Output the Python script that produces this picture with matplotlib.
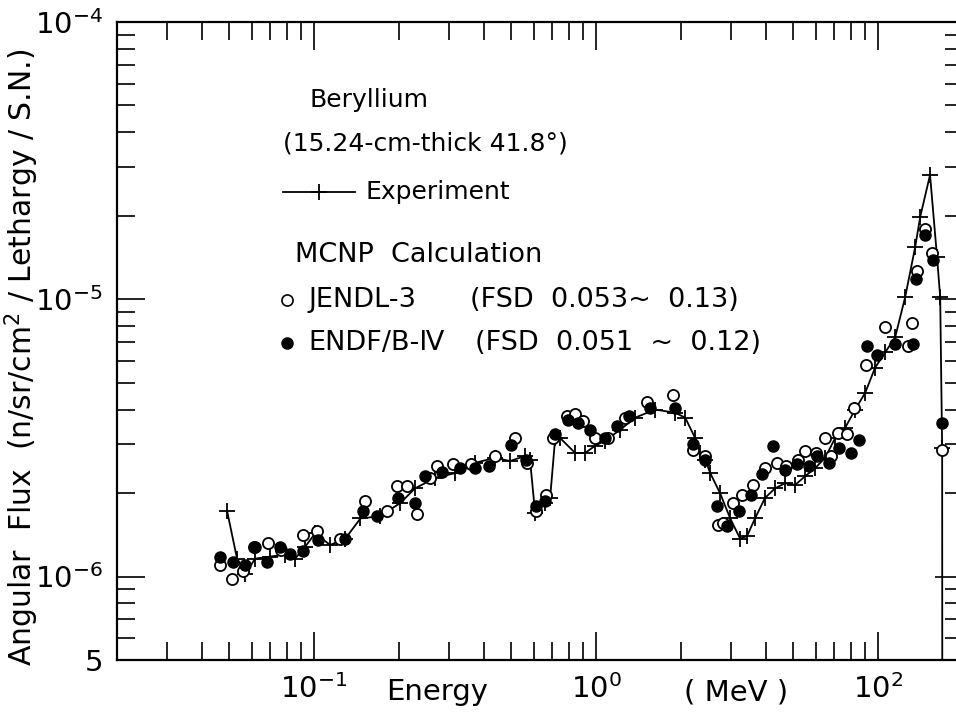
import matplotlib
matplotlib.use("Agg")
import matplotlib.pyplot as plt
from matplotlib.lines import Line2D
from matplotlib.ticker import LogLocator, NullFormatter, FixedLocator
import numpy as np

plt.rcParams['font.family'] = ['DejaVu Sans']

# ---- data (Energy in MeV, flux in units of 1e-6 n/sr/cm2/lethargy/S.N.) ----
exp_energy = [0.0491, 0.0533, 0.0569, 0.0618, 0.0698, 0.0789, 0.0856, 0.0929, 0.1008, 0.114,
              0.129, 0.146, 0.171, 0.202, 0.228, 0.269, 0.316, 0.372, 0.438, 0.495,
              0.560, 0.583, 0.608, 0.659, 0.687, 0.716, 0.745, 0.843, 0.914, 0.991,
              1.076, 1.216, 1.374, 1.619, 1.905, 2.07, 2.244, 2.34, 2.44, 2.54,
              2.75, 2.99, 3.24, 3.43, 3.66, 3.97, 4.31, 4.68, 5.08, 5.51,
              5.98, 6.49, 7.04, 7.64, 8.29, 9.0, 9.76, 10.59, 11.49, 12.47,
              13.53, 14.1, 15.28, 16.18, 16.6, 16.87, 16.9]
exp_flux = [1.73, 1.16, 1.02, 1.16, 1.18, 1.20, 1.16, 1.28, 1.43, 1.30,
            1.37, 1.62, 1.65, 1.84, 2.08, 2.27, 2.36, 2.57, 2.68, 2.61,
            2.72, 2.63, 1.69, 1.84, 1.92, 3.16, 3.16, 2.79, 2.79, 2.96,
            3.09, 3.38, 3.74, 4.00, 3.90, 3.74, 3.16, 2.79, 2.63, 2.36,
            2.00, 1.62, 1.37, 1.40, 1.62, 1.92, 2.08, 2.17, 2.14, 2.30,
            2.46, 2.68, 3.16, 3.44, 4.00, 4.60, 5.67, 6.43, 7.29, 10.17,
            15.4, 19.8, 28.1, 14.2, 10.2, 2.9, 0.1]

jendl_energy = [0.0464, 0.0512, 0.056, 0.0612, 0.0687, 0.0764, 0.0914, 0.1026, 0.1237, 0.1517,
                0.1815, 0.197, 0.2138, 0.2317, 0.2576, 0.2728, 0.311, 0.360, 0.438, 0.516,
                0.569, 0.612, 0.665, 0.705, 0.789, 0.843, 0.900, 0.992, 1.103, 1.267,
                1.517, 1.876, 2.21, 2.44, 2.71, 2.82, 3.06, 3.30, 3.61, 3.97,
                4.38, 4.72, 5.20, 5.51, 6.03, 6.49, 6.81, 7.21, 7.76, 8.22,
                9.06, 10.6, 12.8, 13.2, 13.75, 14.7, 15.5, 16.87]
jendl_flux = [1.10, 0.98, 1.05, 1.28, 1.32, 1.25, 1.41, 1.46, 1.37, 1.87,
              1.72, 2.12, 2.12, 1.68, 2.26, 2.50, 2.55, 2.55, 2.72, 3.16,
              2.57, 1.73, 1.97, 3.16, 3.80, 3.86, 3.64, 3.16, 3.16, 3.74,
              4.27, 4.53, 2.86, 2.72, 1.54, 1.56, 1.84, 1.97, 2.14, 2.46,
              2.57, 2.50, 2.63, 2.84, 2.79, 3.16, 2.72, 3.30, 3.27, 4.06,
              5.77, 7.92, 6.81, 8.18, 12.6, 17.9, 14.7, 2.86]

endf_energy = [0.0464, 0.0516, 0.0569, 0.0618, 0.0681, 0.0757, 0.0822, 0.0914, 0.1033, 0.129,
               0.1492, 0.1673, 0.1986, 0.228, 0.2475, 0.2844, 0.33, 0.372, 0.4175, 0.4995,
               0.565, 0.612, 0.659, 0.716, 0.7955, 0.863, 0.952, 1.076, 1.187, 1.309,
               1.554, 1.905, 2.21, 2.44, 2.69, 2.91, 3.21, 3.54, 3.88, 4.24,
               4.68, 5.16, 5.69, 6.08, 6.70, 7.27, 8.02, 8.56, 9.14, 9.92,
               11.49, 13.3, 13.6, 14.7, 15.7, 16.87]
endf_flux = [1.18, 1.13, 1.105, 1.28, 1.13, 1.28, 1.21, 1.24, 1.36, 1.37,
             1.73, 1.65, 1.92, 1.84, 2.30, 2.38, 2.46, 2.46, 2.50, 2.98,
             2.63, 1.79, 1.87, 3.27, 3.67, 3.58, 3.38, 3.16, 3.50, 3.80,
             4.06, 4.06, 3.01, 2.63, 1.79, 1.52, 1.73, 1.97, 2.34, 2.96,
             2.42, 2.55, 2.50, 2.72, 2.57, 2.91, 2.79, 3.11, 6.81, 6.32,
             6.87, 6.87, 11.8, 17.1, 13.8, 3.58]

scale = 1e-6
xtick_values = [0.1, 1.0, 10.0]
xtick_labels = [r'$10^{-1}$', r'$10^{0}$', r'$10^{2}$']
ytick_values = [5e-7, 1e-6, 1e-5, 1e-4]
ytick_labels = ['5', r'$10^{-6}$', r'$10^{-5}$', r'$10^{-4}$']

W, H = 956, 718
fig = plt.figure(figsize=(W / 100, H / 100), dpi=100)
left_px, right_px, top_px, bottom_px = 117, 963, 22, 660
ax = fig.add_axes([left_px / W, 1 - bottom_px / H, (right_px - left_px) / W, (bottom_px - top_px) / H])
ax.set_xscale('log')
ax.set_yscale('log')
ax.set_xlim(0.02, 20)
ax.set_ylim(5e-7, 1e-4)

ax.plot(exp_energy, np.array(exp_flux) * scale, color='black', lw=1.3,
        marker='+', ms=11, mew=1.3, clip_on=True)
ax.plot(jendl_energy, np.array(jendl_flux) * scale, ls='none', marker='o', ms=8,
        mfc='white', mec='black', mew=1.3, zorder=3)
ax.plot(endf_energy, np.array(endf_flux) * scale, ls='none', marker='o', ms=8,
        mfc='black', mec='black', mew=1.0, zorder=3)

for s in ax.spines.values():
    s.set_linewidth(1.6)

ax.xaxis.set_major_locator(FixedLocator(xtick_values))
ax.set_xticklabels(xtick_labels)
ax.xaxis.set_minor_locator(LogLocator(base=10, subs=np.arange(2, 10), numticks=20))
ax.xaxis.set_minor_formatter(NullFormatter())
ax.yaxis.set_major_locator(FixedLocator(ytick_values))
ax.set_yticklabels(ytick_labels)
ax.yaxis.set_minor_locator(LogLocator(base=10, subs=np.arange(2, 10), numticks=20))
ax.yaxis.set_minor_formatter(NullFormatter())

ax.tick_params(which='both', direction='in', top=True, right=True, width=1.2)
ax.tick_params(which='major', length=20)
ax.tick_params(which='minor', length=13)
ax.tick_params(axis='x', which='major', labelsize=21, pad=10)
ax.tick_params(axis='y', which='major', labelsize=21, pad=10)

fig.text(437 / W, 1 - 692 / H, 'Energy', fontsize=21, ha='center', va='center')
fig.text(736 / W, 1 - 692 / H, '( MeV )', fontsize=21, ha='center', va='center')
fig.text(22 / W, 1 - 357 / H, r'Angular  Flux  (n/sr/cm$^2$ / Lethargy / S.N.)',
         fontsize=21.5, rotation=90, ha='center', va='center')

fs = 18
fs2 = 19.5
fig.text(310 / W, 1 - 100 / H, 'Beryllium', fontsize=fs, ha='left', va='center')
fig.text(283 / W, 1 - 143 / H, '(15.24-cm-thick 41.8°)', fontsize=fs, ha='left', va='center')
fig.add_artist(Line2D([283 / W, 355 / W], [1 - 192 / H, 1 - 192 / H], color='black', lw=1.3,
                      transform=fig.transFigure))
fig.add_artist(Line2D([319 / W], [1 - 192 / H], marker='+', ms=12, mew=1.3, color='black',
                      transform=fig.transFigure))
fig.text(365 / W, 1 - 192 / H, 'Experiment', fontsize=fs, ha='left', va='center')
fig.text(295 / W, 1 - 255 / H, 'MCNP  Calculation', fontsize=fs2, ha='left', va='center')
fig.add_artist(Line2D([287 / W], [1 - 300 / H], marker='o', ms=8, mfc='white', mec='black',
                      mew=1.2, transform=fig.transFigure))
fig.text(308 / W, 1 - 300 / H, 'JENDL-3', fontsize=fs2, ha='left', va='center')
fig.text(470 / W, 1 - 300 / H, '(FSD  0.053~  0.13)', fontsize=fs2, ha='left', va='center')
fig.add_artist(Line2D([287 / W], [1 - 343 / H], marker='o', ms=8, mfc='black', mec='black',
                      transform=fig.transFigure))
fig.text(308 / W, 1 - 343 / H, 'ENDF/B-Ⅳ', fontsize=fs2, ha='left', va='center')
fig.text(475 / W, 1 - 343 / H, '(FSD  0.051  ~  0.12)', fontsize=fs2, ha='left', va='center')

fig.savefig('out.png', dpi=100)
